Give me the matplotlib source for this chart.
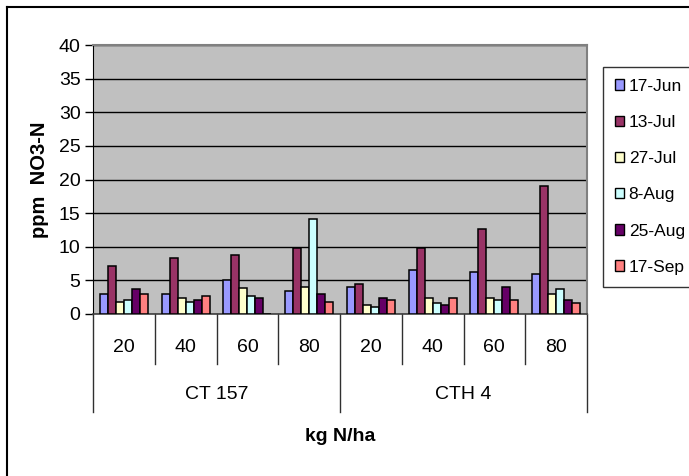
import matplotlib
matplotlib.use("Agg")
import matplotlib.pyplot as plt
from matplotlib.lines import Line2D
from matplotlib.patches import Patch
import numpy as np

plt.rcParams["font.family"] = ["Liberation Sans", "DejaVu Sans"]

# NO3-N readings per sampling date, for each cultivar / N rate
cultivars = ["CT 157", "CTH 4"]
rates = ["20", "40", "60", "80"]
dates = ["17-Jun", "13-Jul", "27-Jul", "8-Aug", "25-Aug", "17-Sep"]
colors = ["#9999FF", "#993366", "#FFFFCC", "#CCFFFF", "#660066", "#FF8080"]

jun17 = [2.9, 2.9, 5.0, 3.4, 4.0, 6.6, 6.3, 6.0]
jul13 = [7.1, 8.4, 8.7, 9.8, 4.5, 9.8, 12.6, 19.0]
jul27 = [1.8, 2.4, 3.8, 4.0, 1.3, 2.4, 2.4, 2.9]
aug8 = [2.1, 1.8, 2.7, 14.2, 1.1, 1.6, 2.1, 3.7]
aug25 = [3.7, 2.1, 2.4, 2.9, 2.4, 1.3, 4.0, 2.1]
sep17 = [2.9, 2.7, 0.0, 1.8, 2.1, 2.4, 2.1, 1.6]
series = [jun17, jul13, jul27, aug8, aug25, sep17]

W, H = 689, 476
fig = plt.figure(figsize=(W / 100, H / 100), dpi=100)
ax = fig.add_axes([93 / W, 1 - 314 / H, 494 / W, 269 / H])
ax.set_facecolor("#C0C0C0")

n_cat = len(cultivars) * len(rates)
x = np.arange(n_cat)
bar_w = 0.13
for i, (vals, label, c) in enumerate(zip(series, dates, colors)):
    ax.bar(x + (i - 2.5) * bar_w, vals, width=bar_w, color=c,
           edgecolor="black", linewidth=1.1, label=label, zorder=3)

ax.set_xlim(-0.5, n_cat - 0.5)
ax.set_ylim(0, 40)
ax.set_yticks(np.arange(0, 41, 5))
ax.tick_params(axis="y", direction="out", length=6, width=1, labelsize=14, pad=3)
ax.set_xticks([])
ax.yaxis.grid(True, color="black", linewidth=1)
ax.set_axisbelow(True)
for side in ("top", "right"):
    ax.spines[side].set_color("#808080")
    ax.spines[side].set_linewidth(1.5)
ax.spines["left"].set_color("black")
ax.spines["bottom"].set_color("#404040")
ax.spines["bottom"].set_linewidth(1.2)

ax.set_ylabel("ppm  NO3-N", fontsize=14.5, fontweight="bold", labelpad=7)

# two-level category axis below the plot
tr = ax.get_xaxis_transform()
for k in range(n_cat + 1):
    edge = k - 0.5
    bottom = -0.364 if k % len(rates) == 0 else -0.186
    ax.plot([edge, edge], [0, bottom], transform=tr, color="#303030",
            linewidth=1, clip_on=False)
for k in range(n_cat):
    ax.text(k, -0.126, rates[k % len(rates)], transform=tr, ha="center",
            va="center", fontsize=14)
for g, name in enumerate(cultivars):
    mid = g * len(rates) + (len(rates) - 1) / 2
    ax.text(mid, -0.301, name, transform=tr, ha="center", va="center", fontsize=14)
ax.text((n_cat - 1) / 2, -0.454, "kg N/ha", transform=tr, ha="center",
        va="center", fontsize=14, fontweight="bold")

handles = [Patch(facecolor=c, edgecolor="black", linewidth=1) for c in colors]
fig.legend(handles, dates, loc="upper left",
           bbox_to_anchor=(603 / W, 1 - 67 / H), fontsize=12.5,
           frameon=True, fancybox=False, edgecolor="black", borderpad=0.68,
           handlelength=0.55, handleheight=0.55, handletextpad=0.25,
           labelspacing=1.22, borderaxespad=0)

# chart frame
fig.add_artist(Line2D([6.5 / W, 6.5 / W], [0, 1 - 7 / H], color="black", linewidth=1.5))
fig.add_artist(Line2D([6.5 / W, 1], [1 - 7 / H, 1 - 7 / H], color="black", linewidth=1.5))

fig.savefig("out.png", dpi=100)
